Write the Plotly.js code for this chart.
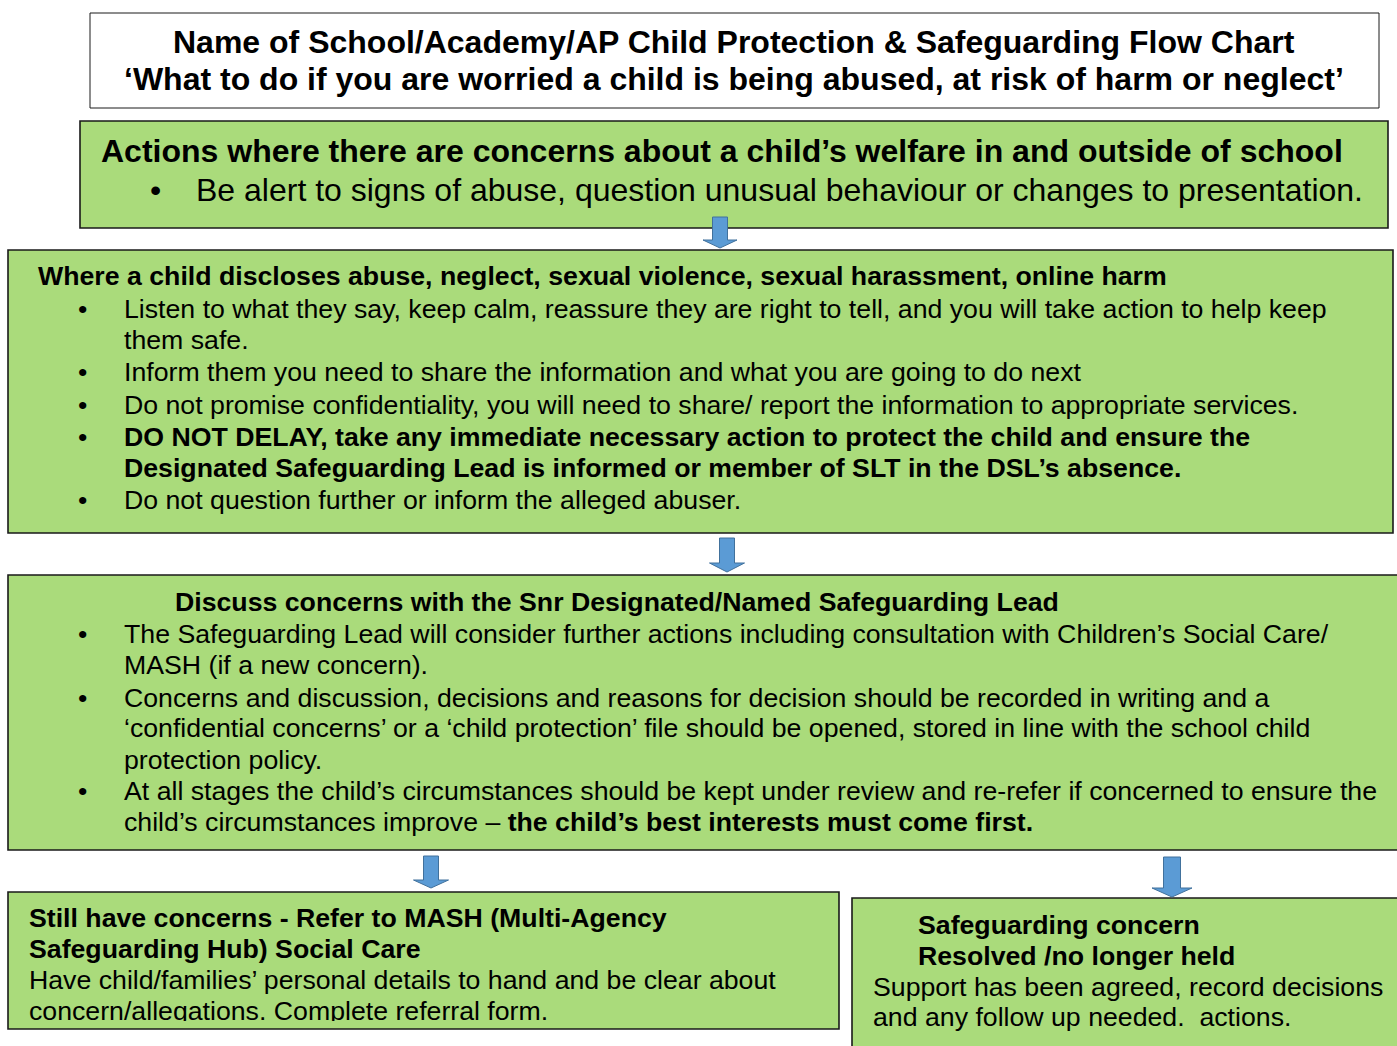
<!DOCTYPE html>
<html>
<head>
<meta charset="utf-8">
<script src="https://cdn.plot.ly/plotly-3.0.1.min.js"></script>
<style>
html,body{margin:0;padding:0;background:#fff;}
#chart{width:1397px;height:1046px;}
</style>
</head>
<body>
<div id="chart"></div>
<script>
// ---- Text content (data) ----
const titleLines = [
  "Name of School/Academy/AP Child Protection & Safeguarding Flow Chart",
  "‘What to do if you are worried a child is being abused, at risk of harm or neglect’"
];
const box1Heading = "Actions where there are concerns about a child’s welfare in and outside of school";
const box1Bullets = ["Be alert to signs of abuse, question unusual behaviour or changes to presentation."];
const box2Heading = "Where a child discloses abuse, neglect, sexual violence, sexual harassment, online harm";
const box2Lines = [
  "Listen to what they say, keep calm, reassure they are right to tell, and you will take action to help keep",
  "them safe.",
  "Inform them you need to share the information and what you are going to do next",
  "Do not promise confidentiality, you will need to share/ report the information to appropriate services.",
  "<b>DO NOT DELAY, take any immediate necessary action to protect the child and ensure the</b>",
  "<b>Designated Safeguarding Lead is informed or member of SLT in the DSL’s absence.</b>",
  "Do not question further or inform the alleged abuser."
];
const box2BulletFlags = [1,0,1,1,1,0,1];
const box3Heading = "Discuss concerns with the Snr Designated/Named Safeguarding Lead";
const box3Lines = [
  "The Safeguarding Lead will consider further actions including consultation with Children’s Social Care/",
  "MASH (if a new concern).",
  "Concerns and discussion, decisions and reasons for decision should be recorded in writing and a",
  "‘confidential concerns’ or a ‘child protection’ file should be opened, stored in line with the school child",
  "protection policy.",
  "At all stages the child’s circumstances should be kept under review and re-refer if concerned to ensure the",
  "child’s circumstances improve – <b>the child’s best interests must come first.</b>"
];
const box3BulletFlags = [1,0,1,0,0,1,0];
const box4Heading = ["Still have concerns - Refer to MASH (Multi-Agency", "Safeguarding Hub) Social Care"];
const box4Lines = ["Have child/families’ personal details to hand and be clear about", "concern/allegations. Complete referral form."];
const box5Heading = ["Safeguarding concern", "Resolved /no longer held"];
const box5Lines = ["Support has been agreed, record decisions", "and any follow up needed.  actions."];

// ---- Styles / layout ----
const GREEN = "#aadb7b";
const BORDER = "#1a1a1a";
const ARROW_FILL = "#5b9bd5";
const ARROW_LINE = "#41719c";
const FONT = "Arial, 'Liberation Sans', sans-serif";

const shapes = [];
const annotations = [];

function box(x0, y0, x1, y1, fill, lw) {
  shapes.push({type:'rect', xref:'x', yref:'y', x0, y0, x1, y1,
    fillcolor: fill, line:{color:BORDER, width:lw}, layer:'below'});
}
function arrow(cx, yTop, yHead, yTip, shaftW, headW) {
  const s = shaftW/2, h = headW/2;
  const p = `M ${cx-s} ${yTop} L ${cx+s} ${yTop} L ${cx+s} ${yHead} L ${cx+h} ${yHead} L ${cx} ${yTip} L ${cx-h} ${yHead} L ${cx-s} ${yHead} Z`;
  shapes.push({type:'path', xref:'x', yref:'y', path:p, fillcolor:ARROW_FILL,
    line:{color:ARROW_LINE, width:1}, layer:'above'});
}
function txt(text, x, y, size, anchor) {
  anchor = anchor || 'left';
  annotations.push({text, x, y, xref:'x', yref:'y', showarrow:false,
    xanchor: anchor, yanchor:'middle', borderpad:0,
    font:{family:FONT, size, color:'#000'}, align: anchor==='center' ? 'center':'left'});
}

// Boxes
box(90, 13, 1379, 108, '#ffffff', 1);
box(80, 121, 1388, 228, GREEN, 1.6);
box(8, 250, 1393, 533, GREEN, 1.6);
box(8, 575, 1402, 850, GREEN, 1.6);
box(8, 892, 839, 1029, GREEN, 1.6);
box(852, 898, 1402, 1060, GREEN, 1.6);

// Arrows
arrow(720, 217, 240, 248, 15, 34);
arrow(727, 538, 563, 572, 15, 35);
arrow(431, 856, 880, 888, 15, 35);
arrow(1172, 857, 888, 897, 17, 40);

// Font sizes
const T = 32, B1 = 32, BS = 26.7;

// Title
txt('<b>' + titleLines[0] + '</b>', 734, 42, T, 'center');
txt('<b>' + titleLines[1] + '</b>', 734, 79, T, 'center');

// Box 1
txt('<b>' + box1Heading + '</b>', 100, 151, B1);
txt('•', 155, 190, B1, 'center');
txt(box1Bullets[0], 195, 190, B1);

// Box 2
txt('<b>' + box2Heading + '</b>', 37, 276, BS);
const box2Y = [309, 340, 372, 405, 437, 468, 500];
box2Lines.forEach((l, i) => {
  if (box2BulletFlags[i]) txt('•', 82, box2Y[i], BS, 'center');
  txt(l, 123, box2Y[i], BS);
});

// Box 3
txt('<b>' + box3Heading + '</b>', 174, 602, BS);
const box3Y = [634, 665, 698, 728, 760, 791, 822];
box3Lines.forEach((l, i) => {
  if (box3BulletFlags[i]) txt('•', 82, box3Y[i], BS, 'center');
  txt(l, 123, box3Y[i], BS);
});

// Box 4
txt('<b>' + box4Heading[0] + '</b>', 28, 918, BS);
txt('<b>' + box4Heading[1] + '</b>', 28, 949, BS);
txt(box4Lines[0], 28, 980, BS);
txt(box4Lines[1], 28, 1011, BS);
// clip the last line as in the reference (cover lower part inside the box)
annotations.push({text:' ', x:10, y:1021, xref:'x', yref:'y', xanchor:'left', yanchor:'top',
  showarrow:false, width:827, height:6.5, bgcolor:GREEN, borderpad:0, borderwidth:0, font:{size:1}});

// Box 5
txt('<b>' + box5Heading[0] + '</b>', 917, 925, BS);
txt('<b>' + box5Heading[1] + '</b>', 917, 956, BS);
txt(box5Lines[0], 872, 987, BS);
txt(box5Lines[1], 872, 1017, BS);

const layout = {
  width:1397, height:1046,
  margin:{l:0, r:0, t:0, b:0, pad:0},
  paper_bgcolor:'#ffffff', plot_bgcolor:'#ffffff',
  xaxis:{range:[0,1397], visible:false, fixedrange:true},
  yaxis:{range:[1046,0], visible:false, fixedrange:true},
  showlegend:false,
  shapes, annotations
};
Plotly.newPlot('chart', [{x:[], y:[], type:'scatter', mode:'markers', hoverinfo:'skip'}], layout, {displayModeBar:false, staticPlot:true});
</script>
</body>
</html>
